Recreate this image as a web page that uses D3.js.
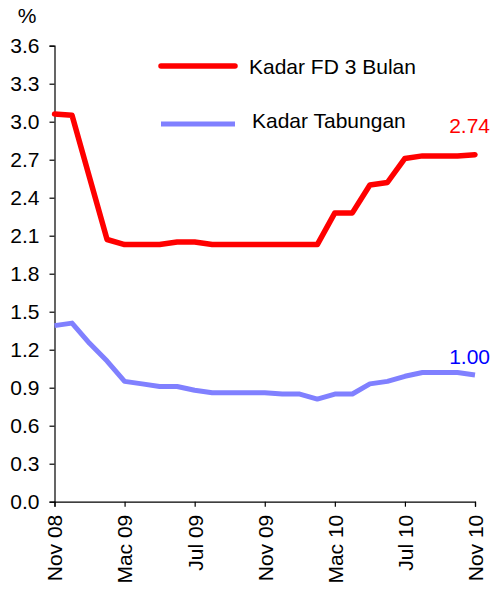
<!DOCTYPE html>
<html>
<head>
<meta charset="utf-8">
<script src="https://cdn.jsdelivr.net/npm/d3@7/dist/d3.min.js"></script>
<style>
  html, body { margin: 0; padding: 0; background: #fff; }
  text { font-family: "Liberation Sans", Arial, sans-serif; }
</style>
</head>
<body>
<svg id="chart" width="494" height="592"></svg>
<script>
const months = ["Nov 08","Dis 08","Jan 09","Feb 09","Mac 09","Apr 09","Mei 09","Jun 09","Jul 09","Ogo 09","Sep 09","Okt 09",
                "Nov 09","Dis 09","Jan 10","Feb 10","Mac 10","Apr 10","Mei 10","Jun 10","Jul 10","Ogo 10","Sep 10","Okt 10","Nov 10"];
const fdRate = [3.06, 3.05, 2.56, 2.07, 2.03, 2.03, 2.03, 2.05, 2.05, 2.03, 2.03, 2.03, 2.03,
                2.03, 2.03, 2.03, 2.28, 2.28, 2.50, 2.52, 2.71, 2.73, 2.73, 2.73, 2.74];
const savRate = [1.39, 1.41, 1.25, 1.11, 0.95, 0.93, 0.91, 0.91, 0.88, 0.86, 0.86, 0.86, 0.86,
                 0.85, 0.85, 0.81, 0.85, 0.85, 0.93, 0.95, 0.99, 1.02, 1.02, 1.02, 1.00];
const xTickLabels = ["Nov 08","Mac 09","Jul 09","Nov 09","Mac 10","Jul 10","Nov 10"];
const yTicks = [0.0,0.3,0.6,0.9,1.2,1.5,1.8,2.1,2.4,2.7,3.0,3.3,3.6];
const seriesNames = ["Kadar FD 3 Bulan", "Kadar Tabungan"];
const seriesColors = ["#ff0000", "#8080ff"];
const labelColors = ["#ff0000", "#0000ff"];
const endLabels = ["2.74", "1.00"];

const svg = d3.select("#chart");
const mLeft = 54.5, mRight = 475, mTop = 45.7, mBottom = 501.7;

const x = d3.scaleLinear().domain([0, months.length - 1]).range([mLeft, mRight]);
const y = d3.scaleLinear().domain([0, 3.6]).range([mBottom, mTop]);

const fs = "21px";

// y axis
const yAxis = d3.axisLeft(y).tickValues(yTicks).tickFormat(d3.format(".1f")).tickSize(5).tickPadding(6);
const gy = svg.append("g").attr("transform", `translate(${mLeft},0)`).call(yAxis);
gy.select(".domain").attr("stroke", "#000").attr("stroke-width", 1.2);
gy.selectAll(".tick line").attr("stroke", "#000").attr("stroke-width", 1.2);
gy.selectAll(".tick text").attr("font-size", fs).attr("fill", "#000")
  .attr("font-family", "Liberation Sans, Arial, sans-serif").attr("x", -15);

// x axis
const xTickIdx = xTickLabels.map(l => months.indexOf(l));
const xAxis = d3.axisBottom(x).tickValues(xTickIdx).tickFormat(i => months[i]).tickSize(5).tickPadding(6);
const gx = svg.append("g").attr("transform", `translate(0,${mBottom})`).call(xAxis);
gx.select(".domain").attr("stroke", "#000").attr("stroke-width", 1.2);
gx.selectAll(".tick line").attr("stroke", "#000").attr("stroke-width", 1.2);
gx.selectAll(".tick text")
  .attr("font-size", fs).attr("fill", "#000")
  .attr("font-family", "Liberation Sans, Arial, sans-serif")
  .attr("text-anchor", "end")
  .attr("transform", "rotate(-90)")
  .attr("x", -13).attr("y", 0).attr("dy", "0.35em");

// % label
svg.append("text").attr("x", 27).attr("y", 23).attr("text-anchor", "middle")
  .attr("font-size", fs).attr("fill", "#000").text("%");

// lines
const line = d3.line().x((d, i) => x(i)).y(d => y(d));
svg.append("path").datum(savRate).attr("d", line).attr("fill", "none")
  .attr("stroke", seriesColors[1]).attr("stroke-width", 5).attr("stroke-linejoin", "round");
svg.append("path").datum(fdRate).attr("d", line).attr("fill", "none")
  .attr("stroke", seriesColors[0]).attr("stroke-width", 5.5).attr("stroke-linejoin", "round").attr("stroke-linecap", "round");

// end labels
svg.append("text").attr("x", 490).attr("y", 133.3).attr("text-anchor", "end")
  .attr("font-size", fs).attr("fill", labelColors[0]).text(endLabels[0]);
svg.append("text").attr("x", 490).attr("y", 364).attr("text-anchor", "end")
  .attr("font-size", fs).attr("fill", labelColors[1]).text(endLabels[1]);

// legend
const legY = [66, 124];
const legTextY = [74.3, 128.3];
const legTextX = [249, 252];
seriesNames.forEach((name, k) => {
  svg.append("line").attr("x1", 161).attr("x2", 235).attr("y1", legY[k]).attr("y2", legY[k])
    .attr("stroke", seriesColors[k]).attr("stroke-width", k === 0 ? 5.5 : 5)
    .attr("stroke-linecap", k === 0 ? "round" : "butt");
  svg.append("text").attr("x", legTextX[k]).attr("y", legTextY[k])
    .attr("font-size", fs).attr("fill", "#000").text(name);
});
</script>
</body>
</html>
